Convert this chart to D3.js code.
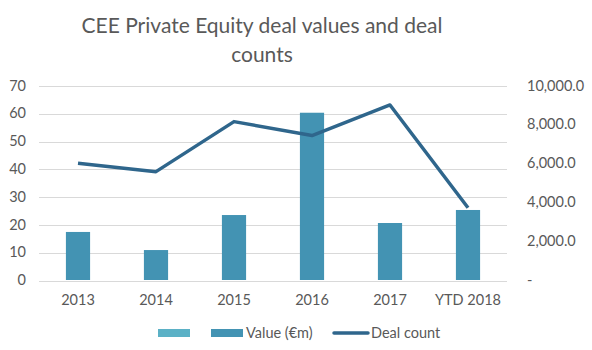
<!DOCTYPE html>
<html lang="en">
<head>
    <meta charset="utf-8"/>
    <title>CEE Private Equity deal values and deal counts</title>
    <style>
        body { margin: 0; background: #fff; }
        text { font-family: Lato, "Open Sans", sans-serif; fill: #595959; }
        .grid line { stroke: #d9d9d9; stroke-width: 1; shape-rendering: crispEdges; }
    </style>
</head>
<body>
<div id="graph"></div>
<script src="https://d3js.org/d3.v7.min.js"></script>
<script>
    var years = ["2013", "2014", "2015", "2016", "2017", "YTD 2018"];
    var dealValues = [2470, 1540, 3340, 8600, 2930, 3600];   // €m, right axis
    var dealCounts = [42, 39, 57, 52, 63, 26];               // left axis
    var leftTicks = [0, 10, 20, 30, 40, 50, 60, 70];
    var rightTicks = [0, 2000, 4000, 6000, 8000, 10000];

    var margin = { top: 85.5, left: 39, right: 85, bottom: 70 },
        width = 592 - margin.left - margin.right,
        height = 350 - margin.top - margin.bottom;

    var svg = d3.select("#graph").append("svg")
        .attr("width", 592)
        .attr("height", 350);

    svg.append("g").selectAll("text")
        .data(["CEE Private Equity deal values and deal", "counts"])
        .enter().append("text")
        .attr("x", 262)
        .attr("y", function (d, i) { return 33 + i * 29; })
        .attr("text-anchor", "middle")
        .style("font-size", "21px")
        .text(function (d) { return d; });

    var g = svg.append("g")
        .attr("transform", "translate(" + margin.left + "," + margin.top + ")");

    var x = d3.scaleBand().domain(years).range([0, width]).paddingInner(0.69).paddingOuter(0.345);
    var yL = d3.scaleLinear().domain([0, 70]).range([height, 0]);
    var yR = d3.scaleLinear().domain([0, 10000]).range([height, 0]);

    // gridlines
    g.append("g").attr("class", "grid")
        .selectAll("line")
        .data(leftTicks)
        .enter().append("line")
        .attr("x1", 0).attr("x2", width)
        .attr("y1", function (d) { return Math.round(yL(d)) + 0.5; })
        .attr("y2", function (d) { return Math.round(yL(d)) + 0.5; });

    // left axis labels
    g.append("g").selectAll("text")
        .data(leftTicks)
        .enter().append("text")
        .attr("x", -13)
        .attr("y", function (d) { return yL(d); })
        .attr("dy", "0.35em")
        .attr("text-anchor", "end")
        .style("font-size", "14.5px")
        .text(function (d) { return d; });

    // right axis labels
    var fmt = d3.format(",.1f");
    g.append("g").selectAll("text")
        .data(rightTicks)
        .enter().append("text")
        .attr("x", width + 20)
        .attr("y", function (d) { return yR(d); })
        .attr("dy", "0.35em")
        .attr("text-anchor", "start")
        .style("font-size", "14.5px")
        .text(function (d) { return d === 0 ? "-" : fmt(d); });

    // x labels
    g.append("g").selectAll("text")
        .data(years)
        .enter().append("text")
        .attr("x", function (d) { return x(d) + x.bandwidth() / 2; })
        .attr("y", height + 25)
        .attr("text-anchor", "middle")
        .style("font-size", "14.5px")
        .text(function (d) { return d; });

    // bars
    g.append("g").selectAll("rect")
        .data(dealValues)
        .enter().append("rect")
        .attr("x", function (d, i) { return x(years[i]); })
        .attr("width", x.bandwidth())
        .attr("y", function (d) { return yR(d); })
        .attr("height", function (d) { return height - yR(d); })
        .style("fill", "#4393b3");

    // line
    var line = d3.line()
        .x(function (d, i) { return x(years[i]) + x.bandwidth() / 2; })
        .y(function (d) { return yL(d); });

    g.append("path")
        .datum(dealCounts)
        .attr("d", line)
        .style("fill", "none")
        .style("stroke", "#2f668c")
        .style("stroke-width", 3.5)
        .style("stroke-linejoin", "round");

    // legend
    var lg = svg.append("g").attr("transform", "translate(0,333)");
    lg.append("rect").attr("x", 158).attr("y", -4).attr("width", 32).attr("height", 8).style("fill", "#5bb1c6");
    lg.append("rect").attr("x", 211).attr("y", -4).attr("width", 32).attr("height", 8).style("fill", "#4393b3");
    lg.append("text").attr("x", 246).attr("y", 0).attr("dy", "0.35em").style("font-size", "14.5px").text("Value (€m)");
    lg.append("line").attr("x1", 334).attr("x2", 368).attr("y1", 0).attr("y2", 0)
        .style("stroke", "#2f668c").style("stroke-width", 3.5).style("stroke-linecap", "round");
    lg.append("text").attr("x", 371).attr("y", 0).attr("dy", "0.35em").style("font-size", "14.5px").text("Deal count");
</script>
</body>
</html>
